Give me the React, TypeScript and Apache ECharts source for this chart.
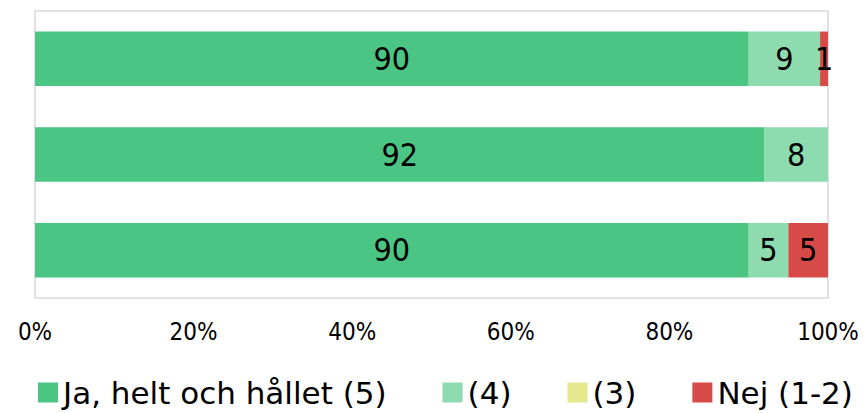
import React, { useEffect, useRef } from "react";
import * as echarts from "echarts";

const categories = ["A", "B", "C"];
const seriesNames = ["Ja, helt och hållet (5)", "(4)", "(3)", "Nej (1-2)"];
const values5 = [90, 92, 90];
const values4 = [9, 8, 5];
const values3 = [0, 0, 0];
const values12 = [1, 0, 5];
const xTicks = [0, 20, 40, 60, 80, 100];
const colors = ["#4bc583", "#8edbb0", "#e4e98e", "#d64b47"];

const FONT = "'DejaVu Sans Condensed', 'DejaVu Sans', sans-serif";
const LEGEND_FONT = "'DejaVu Sans', sans-serif";

export default function App() {
  const ref = useRef<HTMLDivElement>(null);
  useEffect(() => {
    if (!ref.current) return;
    const chart = echarts.init(ref.current, undefined, { renderer: "svg" });
    const all = [values5, values4, values3, values12];
    chart.setOption({
      animation: false,
      textStyle: { fontFamily: FONT },
      grid: {
        left: 35,
        right: 36,
        top: 11,
        bottom: 115,
        show: true,
        borderColor: "#d6d9e0",
        borderWidth: 1.5,
      },
      legend: {
        top: 377,
        left: 38,
        padding: 0,
        itemWidth: 20,
        itemHeight: 20,
        itemGap: 56,
        icon: "rect",
        textStyle: {
          fontSize: 31,
          color: "#000",
          fontFamily: LEGEND_FONT,
        },
        data: seriesNames,
      },
      xAxis: {
        type: "value",
        min: 0,
        max: 100,
        interval: 20,
        axisLine: { show: false },
        axisTick: { show: false },
        splitLine: { show: false },
        axisLabel: {
          fontSize: 24,
          color: "#000",
          margin: 22,
          fontFamily: FONT,
          formatter: (v: number) => (xTicks.includes(v) ? v + "%" : ""),
        },
      },
      yAxis: {
        type: "category",
        data: categories,
        inverse: true,
        axisLine: { show: false },
        axisTick: { show: false },
        axisLabel: { show: false },
      },
      series: seriesNames.map((name, i) => ({
        name,
        type: "bar",
        stack: "total",
        barCategoryGap: "43%",
        data: all[i],
        itemStyle: { color: colors[i] },
        label: {
          show: true,
          position: "inside",
          color: "#000",
          fontSize: 32,
          fontFamily: FONT,
          formatter: (p: any) => (p.value > 0 ? String(p.value) : ""),
        },
      })),
    });
    return () => chart.dispose();
  }, []);
  return (
    <div
      ref={ref}
      style={{ position: "fixed", left: 0, top: 0, width: 864, height: 413, background: "#fff" }}
    />
  );
}
